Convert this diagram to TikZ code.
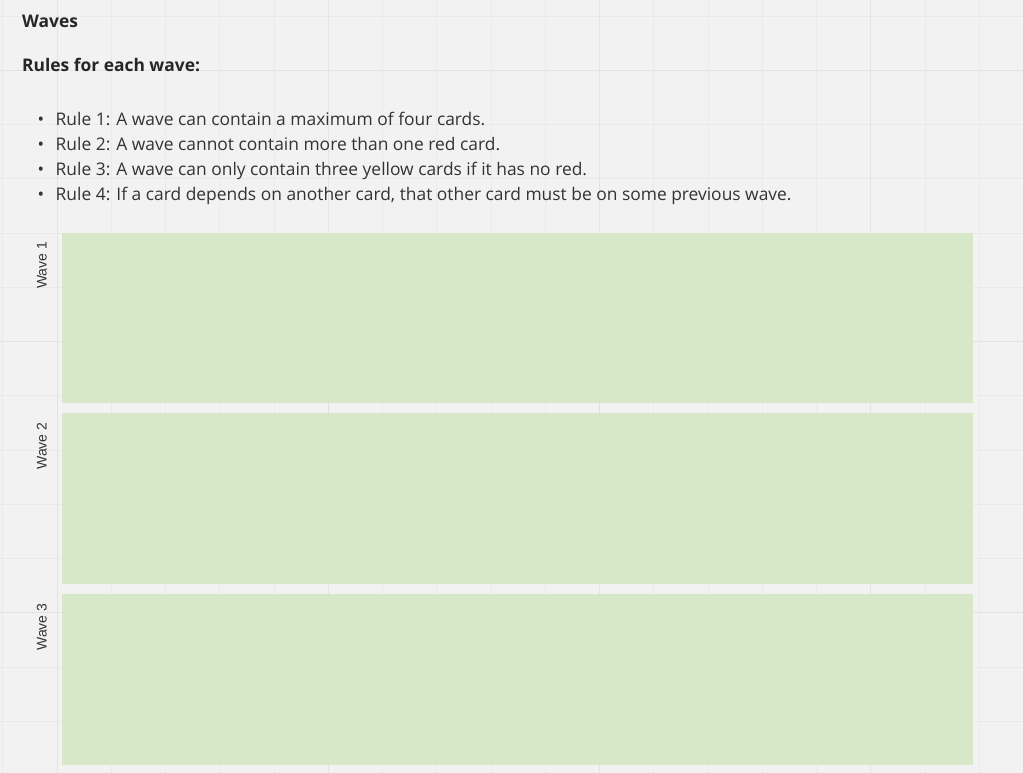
\documentclass[tikz,border=0pt]{standalone}
\usepackage{fontspec}
\setmainfont{Open Sans}
\newfontfamily\labelfont{Liberation Sans}
\usepackage{tikz}
\usetikzlibrary{positioning}
\usepackage{xcolor}
\definecolor{boardbg}{RGB}{242,242,242}
\definecolor{gridminor}{RGB}{234,234,234}
\definecolor{gridmajor}{RGB}{227,227,227}
\definecolor{wavegreen}{RGB}{213,232,196}
\definecolor{textdark}{RGB}{51,51,51}
\tikzstyle{heading} = [anchor=base west, inner sep=0pt, text=black!85, font=\fontsize{17.4}{20}\selectfont\bfseries]
\tikzstyle{rule} = [anchor=base west, inner sep=0pt, text=textdark, font=\fontsize{17.4}{20}\selectfont]
\tikzstyle{wavebox} = [rectangle, minimum width=911pt, minimum height=170.5pt, inner sep=0pt, fill=wavegreen, fill opacity=0.9, draw=none]
\tikzstyle{wavelabel} = [rotate=90, anchor=base east, inner sep=0pt, text=textdark, font=\labelfont\fontsize{14}{16}\selectfont]

\begin{document}
\begin{tikzpicture}[x=1pt, y=-1pt]
\useasboundingbox (0,0) rectangle (1023,773);
% Board
\fill[boardbg] (0,0) rectangle (1023,773);
\foreach \k in {-1,...,18}
  \draw[gridminor, line width=0.8pt] ({57+54.25*\k},0) -- ({57+54.25*\k},773);
\foreach \k in {0,...,14}
  \draw[gridminor, line width=0.8pt] (0,{16+54.25*\k}) -- (1023,{16+54.25*\k});
\foreach \k in {0,...,3}
  \draw[gridmajor, line width=1pt] ({57+271.25*\k},0) -- ({57+271.25*\k},773);
\foreach \k in {0,...,2}
  \draw[gridmajor, line width=1pt] (0,{70.25+271.25*\k}) -- (1023,{70.25+271.25*\k});

% Headings
\node[heading] (title) at (22,27.5) {Waves};
\node[heading] (rulestitle) at (22,72) {Rules for each wave:};

% Rules
\node[rule] (rule1) at (55.5,125.7) {\llap{\textbullet\hspace{11.5pt}}Rule 1: A wave can contain a maximum of four cards.};
\node[rule] (rule2) at ([yshift=-25pt] rule1.base west) {\llap{\textbullet\hspace{11.5pt}}Rule 2: A wave cannot contain more than one red card.};
\node[rule] (rule3) at ([yshift=-25pt] rule2.base west) {\llap{\textbullet\hspace{11.5pt}}Rule 3: A wave can only contain three yellow cards if it has no red.};
\node[rule] (rule4) at ([yshift=-25pt] rule3.base west) {\llap{\textbullet\hspace{11.5pt}}Rule 4: If a card depends on another card, that other card must be on some previous wave.};

% Waves
\node[wavebox, anchor=north west] (wave1) at (62,232.3) {};
\node[wavebox, below=10pt of wave1] (wave2) {};
\node[wavebox, below=10pt of wave2] (wave3) {};

\node[wavelabel] (label1) at ([xshift=-15.5pt, yshift=-9.3pt] wave1.north west) {Wave 1};
\node[wavelabel] (label2) at ([xshift=-15.5pt, yshift=-9.3pt] wave2.north west) {Wave 2};
\node[wavelabel] (label3) at ([xshift=-15.5pt, yshift=-9.3pt] wave3.north west) {Wave 3};
\end{tikzpicture}
\end{document}
